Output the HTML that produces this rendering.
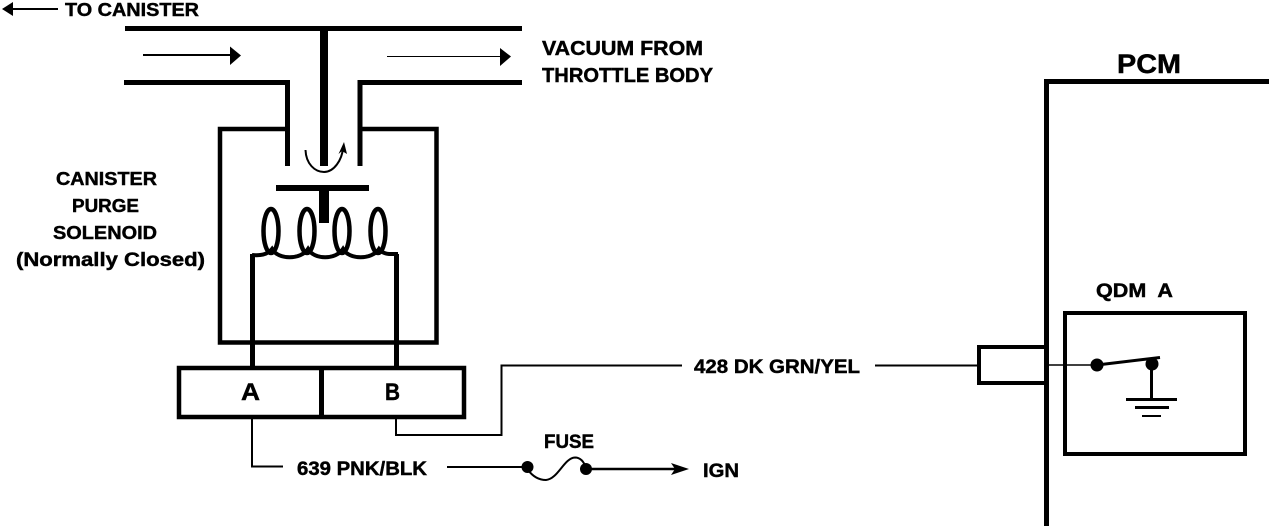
<!DOCTYPE html>
<html>
<head>
<meta charset="utf-8">
<style>
html,body{margin:0;padding:0;background:#fff;width:1280px;height:526px;overflow:hidden}
svg{display:block}
text{font-family:"Liberation Sans",sans-serif;font-weight:bold;fill:#000;stroke:#000;stroke-width:.45px}
</style>
</head>
<body>
<svg width="1280" height="526" viewBox="0 0 1280 526" xmlns="http://www.w3.org/2000/svg">
<rect width="1280" height="526" fill="#fff"/>
<g fill="none" stroke="#000" stroke-linecap="butt" stroke-linejoin="miter">
  <!-- pipe -->
  <path d="M125 28.5H522" stroke-width="5"/>
  <path d="M124 82.5H287.5V166" stroke-width="5"/>
  <path d="M522 82.5H360V166" stroke-width="5"/>
  <path d="M324 28V166" stroke-width="8"/>
  <!-- solenoid body -->
  <path d="M287 129H220V342.5H436.5V129H360" stroke-width="4.5"/>
  <!-- plate -->
  <path d="M276 188H369" stroke-width="6"/>
  <path d="M324 185V223" stroke-width="10"/>
  <!-- rotation arrow -->
  <path d="M305.500 150C306 164 315 172 324 172C334 172 342 160 343 148" stroke-width="2"/>
  <!-- coil -->
  <ellipse cx="271" cy="231" rx="7.500" ry="22" stroke-width="4.500"/>
  <ellipse cx="307" cy="231" rx="7.500" ry="22" stroke-width="4.500"/>
  <ellipse cx="342" cy="231" rx="7.500" ry="22" stroke-width="4.500"/>
  <ellipse cx="378" cy="231" rx="7.500" ry="22" stroke-width="4.500"/>
  <path d="M252 255C261 256 268 254 272 249C278 260 301 260 308 249C314 260 336 260 343 249C349 260 372 260 379 249C384 255 390 254 398 254" stroke-width="4"/>
  <path d="M252.500 254V367M396.500 254V367" stroke-width="5"/>
  <!-- connector -->
  <rect x="179" y="368" width="285" height="49" stroke-width="4.500"/>
  <path d="M321.500 368V417" stroke-width="5"/>
  <!-- wires -->
  <path d="M252 419V466.500H283" stroke-width="2"/>
  <path d="M447 467H527" stroke-width="2"/>
  <path d="M396 419V435H501.500V365.500H682" stroke-width="2"/>
  <path d="M875 365.500H977" stroke-width="2"/>
  <!-- fuse -->
  <path d="M528 470C534 478 540 480 546 480C558 479 564 458 575 457.500C581 457.500 584 462 586 468" stroke-width="2"/>
  <path d="M586 469H675" stroke-width="2.500"/>
  <!-- top arrows -->
  <path d="M12 9H58" stroke-width="2"/>
  <path d="M143 55H232" stroke-width="2"/>
  <path d="M387 56.500H502" stroke-width="1"/>
  <!-- PCM -->
  <path d="M1269 81.500H1046.500V526" stroke-width="5"/>
  <path d="M1045 347H979V383H1045" stroke-width="4"/>
  <path d="M1047 365H1097" stroke-width="1.500"/>
  <rect x="1065" y="313" width="180" height="141" stroke-width="4"/>
  <!-- switch -->
  <path d="M1097 365L1160 357.500" stroke-width="3"/>
  <path d="M1151.500 364V399" stroke-width="3"/>
  <path d="M1126 399.500H1177" stroke-width="3"/>
  <path d="M1135 407.500H1169" stroke-width="3"/>
  <path d="M1142 416H1161" stroke-width="2"/>
</g>
<g fill="#000">
  <path d="M2 9L13 2V16Z"/>
  <path d="M241 55.500L230 46.500V65Z"/>
  <path d="M511 56.500L500 48V66Z"/>
  <path d="M344 142L338.500 154L342 151L347 154Z"/>
  <path d="M689 469L671 463L675 469L671 475Z"/>
  <circle cx="527.500" cy="467" r="6"/>
  <circle cx="586" cy="469" r="6"/>
  <circle cx="1097" cy="365" r="6.500"/>
  <circle cx="1152" cy="364" r="6.500"/>
</g>
<g font-size="18">
  <text x="65" y="16" font-size="18" textLength="134" lengthAdjust="spacingAndGlyphs">TO CANISTER</text>
  <text x="542" y="55" font-size="20" textLength="161" lengthAdjust="spacingAndGlyphs">VACUUM FROM</text>
  <text x="542" y="82" font-size="20" textLength="171" lengthAdjust="spacingAndGlyphs">THROTTLE BODY</text>
  <text x="56" y="185" textLength="101" lengthAdjust="spacingAndGlyphs">CANISTER</text>
  <text x="72" y="212" textLength="67" lengthAdjust="spacingAndGlyphs">PURGE</text>
  <text x="53" y="239" textLength="104" lengthAdjust="spacingAndGlyphs">SOLENOID</text>
  <text x="16" y="266" font-size="19" textLength="189" lengthAdjust="spacingAndGlyphs">(Normally Closed)</text>
  <text x="241" y="400" font-size="24" textLength="19" lengthAdjust="spacingAndGlyphs">A</text>
  <text x="385" y="400" font-size="24" textLength="15" lengthAdjust="spacingAndGlyphs">B</text>
  <text x="297" y="475" font-size="19" textLength="130" lengthAdjust="spacingAndGlyphs">639 PNK/BLK</text>
  <text x="694" y="373" font-size="19" textLength="166" lengthAdjust="spacingAndGlyphs">428 DK GRN/YEL</text>
  <text x="544" y="448" font-size="19" textLength="50" lengthAdjust="spacingAndGlyphs">FUSE</text>
  <text x="703" y="477" font-size="19" textLength="36" lengthAdjust="spacingAndGlyphs">IGN</text>
  <text x="1096" y="297" font-size="19" textLength="77" xml:space="preserve" lengthAdjust="spacingAndGlyphs">QDM  A</text>
  <text x="1117" y="73" font-size="27" textLength="64" lengthAdjust="spacingAndGlyphs">PCM</text>
</g>
</svg>
</body>
</html>
